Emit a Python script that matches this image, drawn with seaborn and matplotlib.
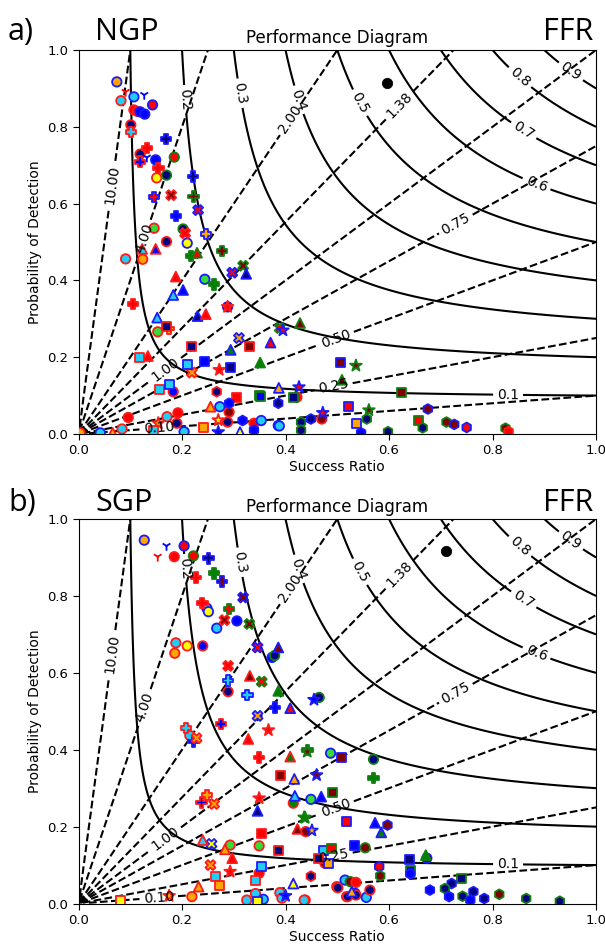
import numpy as np
import pandas as pd
import matplotlib
matplotlib.use("Agg")
import matplotlib.pyplot as plt
import seaborn as sns

# ---- verification points: success ratio, probability of detection, style code ----
# style code = marker + face colour + edge colour
ngp_sr = [
    .074, .091, .082, .107, .127, .143, .107, .114, .119, .128,
    .101, .101, .169, .132, .119, .119, .132, .149, .154, .185,
    .170, .151, .221, .146, .179, .222, .231, .188, .202, .206,
    .246, .146, .170, .210, .123, .149, .229, .277, .217,
    .091, .124, .188, .244, .262, .297, .318, .324, .105, .183,
    .202, .152, .230, .246, .288, .288, .153, .170, .175, .117,
    .134, .219, .310, .331, .371, .211, .244, .293, .294, .351,
    .272, .219, .156, .175, .183, .267, .255, .273, .291, .291,
    .306, .349, .386, .415, .422, .096, .171, .192, .190, .154,
    .084, .066, .042, .003, .204, .241, .288, .317, .339, .353,
    .386, .339, .270, .312, .430, .430, .449,
    .428, .389, .395, .507, .536, .509, .387, .426, .351, .625,
    .521, .472, .561, .675, .388, .470, .538, .557, .546, .598,
    .656, .665, .711, .726, .750, .825, .831, .144, .270,
]
ngp_pod = [
    .917, .891, .868, .878, .883, .857, .844, .840, .839, .833,
    .805, .787, .768, .745, .729, .709, .720, .714, .693, .721,
    .674, .667, .670, .617, .622, .618, .583, .568, .534, .523,
    .521, .536, .501, .497, .482, .482, .472, .477, .463,
    .456, .455, .410, .403, .390, .420, .438, .417, .339, .362,
    .375, .303, .307, .312, .331, .331, .266, .279, .275, .198,
    .203, .229, .250, .229, .238, .182, .190, .174, .219, .186,
    .167, .160, .115, .128, .110, .110, .071, .071, .080, .057,
    .094, .099, .080, .094, .096, .043, .045, .055, .028, .028,
    .013, .003, .003, .003, .006, .016, .031, .035, .028, .035,
    .022, .010, .005, .005, .031, .010, .039,
    .289, .276, .270, .185, .178, .141, .120, .122, .097, .107,
    .071, .055, .062, .065, .021, .039, .026, .039, .003, .006,
    .035, .016, .031, .025, .017, .015, .006, .010, .036,
]
ngp_style = [
    "oob", "Yrr", "ocr", "ocb", "Ybb", "orb", "orr", "orr", "obb", "obb",
    "onr", "Pcr", "Pnb", "Prr", "onr", "Pbr", "Ybb", "obb", "Prr", "org",
    "ong", "oyr", "Pnb", "Prb", "Xmr", "Pmg", "Xrb", "Pbb", "ong", "Xrr",
    "Pob", "olr", "onr", "oyb", "^cr", "^br", "^rg", "Pmg", "Pgg",
    "ocr", "oor", "^rr", "olb", "Pgg", "Xrb", "Xmg", "^nb", "Prr", "^cb",
    "^bb", "^cb", "^nb", "^rr", "onb", "*rr", "olr", "snr", "Por", "scr",
    "^rr", "snr", "Xob", "smr", "^rb", "scb", "sbb", "snb", "^gb", "^gg",
    "*rr", "Xor", "scr", "scb", "obr", "hnr", "^or", "ocb", "hbb", "omr",
    "srr", "sng", "hnb", "sng", "orr", "orr", "ocr", "orr", "onr", "*or",
    "ocr", "^or", "ocb", "oor", "ocb", "sor", "onr", "hbb", "orr", "ocb",
    "ocb", "hbb", "*bb", "^yb", "hng", "hng", "hnb",
    "^mg", "Xrg", "*rb", "smb", "*mg", "^mg", "^ob", "*rb", "sbg", "smg",
    "srb", "*rb", "*mg", "hmb", "ocb", "omr", "sob", "hng", "hbb", "hng",
    "srg", "hng", "hmg", "hmb", "hrb", "hmg", "hrr", "scr", "*yr",
]

sgp_sr = [
    .127, .170, .153, .185, .204, .222, .251, .227, .262, .277,
    .318, .239, .248, .251, .291, .282, .306, .330, .267, .188,
    .186, .210, .240, .346, .386, .374, .379, .289, .331, .354,
    .289, .289, .326, .386, .380, .409, .346, .275, .367, .328,
    .208, .215, .228, .222, .349, .409, .442, .487, .509, .391,
    .417, .460, .238, .248, .262, .349, .346, .418, .469, .449,
    .415, .490, .438, .423, .439, .451, .517, .353, .349, .386,
    .240, .257, .293, .283, .297, .255, .473, .489, .534, .463,
    .476, .483, .353, .293, .349, .264, .272, .342, .449, .232,
    .415, .175, .219, .082, .325, .342, .357, .345, .389, .393,
    .400, .438, .499, .515, .518, .534,
    .570, .570, .442, .436, .573, .597, .585, .554, .639, .671,
    .673, .581, .583, .641, .641, .740, .721, .708, .679, .716,
    .742, .763, .757, .784, .813, .865, .930, .525, .536, .501,
    .520, .536, .556, .563, .436, .465, .455, .528,
]
sgp_pod = [
    .945, .930, .902, .902, .930, .904, .898, .848, .859, .837,
    .796, .782, .768, .759, .766, .737, .735, .727, .716, .678,
    .651, .670, .670, .666, .666, .640, .645, .618, .592, .577,
    .580, .551, .542, .553, .510, .508, .488, .467, .451, .428,
    .456, .437, .430, .421, .380, .382, .399, .391, .380, .332,
    .324, .334, .263, .282, .259, .274, .241, .280, .278, .271,
    .261, .288, .223, .194, .187, .190, .213, .181, .150, .139,
    .165, .155, .152, .141, .118, .100, .139, .144, .152, .118,
    .105, .105, .096, .083, .079, .070, .048, .061, .071, .044,
    .052, .020, .018, .009, .009, .026, .011, .006, .028, .014,
    .020, .009, .044, .061, .018, .027,
    .375, .326, .395, .224, .210, .204, .185, .145, .115, .126,
    .118, .096, .072, .087, .077, .065, .052, .039, .035, .018,
    .019, .031, .009, .013, .024, .013, .006, .057, .055, .041,
    .018, .022, .016, .035, .009, .536, .530, .031,
]
sgp_style = [
    "oob", "Ybb", "Yrr", "orr", "orb", "org", "Pnb", "Prr", "Pgg", "Pmb",
    "Xmb", "Prr", "ocb", "oyb", "Prg", "Xmr", "obb", "Xmg", "ocb", "ocr",
    "oor", "oyr", "obr", "Xrb", "^mb", "obb", "ong", "Xrr", "^mr", "Xrg",
    "Pcb", "onr", "Pcb", "^gg", "Pbb", "^rb", "Xob", "Pbr", "*rr", "^rr",
    "Pcr", "ocr", "Xor", "Pbb", "Prr", "^gr", "Pgg", "olb", "smb", "smr",
    "^ob", "*mb", "Pbr", "Por", "Xor", "*rr", "^nb", "^cb", "^bb", "olb",
    "ogr", "smg", "*mg", "^mr", "omr", "*ob", "srb", "srr", "olr", "snr",
    "^cr", "Xyb", "olr", "^or", "^rr", "Xor", "scb", "srg", "sbb", "snr",
    "omr", "sob", "scb", "*rr", "orr", "scr", "sor", "scr", "hnr", "^or",
    "^yb", "*or", "oor", "syr", "ocr", "ocr", "ocb", "syb", "ocr", "ocr",
    "*bb", "ocr", "orr", "ocb", "onr", "obb",
    "ong", "Pgg", "*mg", "*gg", "^bb", "hmb", "^gb", "omg", "snb", "^gg",
    "omb", "hrb", "hmg", "sbg", "hbb", "sng", "hnb", "hng", "hbb", "hbb",
    "hng", "hnb", "hbb", "hnb", "hmg", "hng", "hng", "omg", "orr", "onr",
    "onr", "onr", "ocb", "onr", "ocr", "ong", "*bb", "^ob",
]

# reference point drawn in black on each diagram
ngp_best = (0.596, 0.913)
sgp_best = (0.710, 0.917)

# contour levels of the diagram background
csi_levels = [0.1, 0.2, 0.3, 0.4, 0.5, 0.6, 0.7, 0.8, 0.9]
bias_levels = [0.1, 0.25, 0.5, 0.75, 1.0, 1.38, 2.0, 4.0, 10.0]
tick_values = [0.0, 0.2, 0.4, 0.6, 0.8, 1.0]

# label anchor points on the contours
csi_label_pos = [(0.83, 0.103), (0.203, 0.87), (0.31, 0.887), (0.425, 0.87),
                 (0.54, 0.86), (0.884, 0.648), (0.857, 0.784), (0.847, 0.92),
                 (0.948, 0.938)]
bias_label_pos = [(0.155, 0.016), (0.493, 0.124), (0.497, 0.249), (0.729, 0.547),
                  (0.168, 0.168), (0.62, 0.856), (0.41, 0.82), (0.128, 0.51),
                  (0.065, 0.65)]

FACE = {"r": "#ff0000", "b": "#0000ff", "g": "#008000", "m": "#800000",
        "n": "#000080", "c": "#22cdf5", "o": "#ffa500", "y": "#ffff00",
        "l": "#33dd33"}
EDGE = {"r": "#ff1a1a", "b": "#1a1aff", "g": "#108010"}
MARKER = {"o": "o", "P": "P", "X": "X", "^": "^", "s": "s", "*": "*",
          "h": "h", "Y": "1"}
SIZE = {"o": 46, "P": 58, "X": 52, "^": 50, "s": 42, "*": 78, "h": 50, "Y": 48}


def to_frame(sr, pod, style):
    return pd.DataFrame({
        "sr": sr, "pod": pod,
        "marker": [s[0] for s in style],
        "face": [s[1] for s in style],
        "edge": [s[2] for s in style],
    })


def draw_background(ax):
    grid = np.linspace(0.002, 1.0, 400)
    sr, pod = np.meshgrid(grid, grid)
    csi = 1.0 / (1.0 / sr + 1.0 / pod - 1.0)
    bias = pod / sr
    cs_csi = ax.contour(sr, pod, csi, levels=csi_levels, colors="black",
                        linewidths=1.5, linestyles="solid")
    ax.clabel(cs_csi, fmt="%.1f", fontsize=10, inline=True,
              manual=csi_label_pos, inline_spacing=4)
    cs_bias = ax.contour(sr, pod, bias, levels=bias_levels, colors="black",
                         linewidths=1.5, linestyles="dashed")
    ax.clabel(cs_bias, fmt="%.2f", fontsize=10, inline=True,
              manual=bias_label_pos, inline_spacing=4)


def draw_points(ax, df, best):
    for code, sub in df.groupby("marker", sort=False):
        m = MARKER[code]
        if code == "Y":
            sns.scatterplot(data=sub, x="sr", y="pod", hue="face",
                            palette=FACE, marker=m, s=SIZE[code],
                            linewidth=1.3, legend=False, ax=ax, zorder=3)
        else:
            sns.scatterplot(data=sub, x="sr", y="pod", hue="face",
                            palette=FACE, marker=m, s=SIZE[code],
                            edgecolor=[EDGE[e] for e in sub["edge"]],
                            linewidth=1.3, legend=False, ax=ax, zorder=3)
    sns.scatterplot(x=[best[0]], y=[best[1]], color="black", s=55,
                    edgecolor="black", legend=False, ax=ax, zorder=4)


def finish_axes(ax):
    ax.set_xlim(0, 1)
    ax.set_ylim(0, 1)
    ax.set_xticks(tick_values)
    ax.set_yticks(tick_values)
    ax.set_xticklabels([f"{v:.1f}" for v in tick_values])
    ax.set_yticklabels([f"{v:.1f}" for v in tick_values])
    ax.tick_params(labelsize=9.5, length=4)
    ax.set_xlabel("Success Ratio", fontsize=10, labelpad=2)
    ax.set_ylabel("Probability of Detection", fontsize=10, labelpad=4)
    ax.set_title("Performance Diagram", fontsize=12, pad=5)


fig = plt.figure(figsize=(6.05, 9.49), dpi=100)
ax_a = fig.add_axes([0.1298, 0.5427, 0.8554, 0.4046])
ax_b = fig.add_axes([0.1298, 0.0479, 0.8554, 0.4052])

panels = [
    (ax_a, to_frame(ngp_sr, ngp_pod, ngp_style), ngp_best, "a)", "NGP", 1 - 40 / 949),
    (ax_b, to_frame(sgp_sr, sgp_pod, sgp_style), sgp_best, "b)", "SGP", 1 - 511 / 949),
]
for ax, df, best, tag, region, ybase in panels:
    draw_background(ax)
    draw_points(ax, df, best)
    finish_axes(ax)
    big = dict(fontsize=22, family=["Open Sans", "DejaVu Sans"], va="baseline")
    fig.text(8 / 605, ybase, tag, ha="left", **big)
    fig.text(95 / 605, ybase, region, ha="left", **big)
    fig.text(593 / 605, ybase, "FFR", ha="right", **big)

fig.savefig("out.png", dpi=100)
